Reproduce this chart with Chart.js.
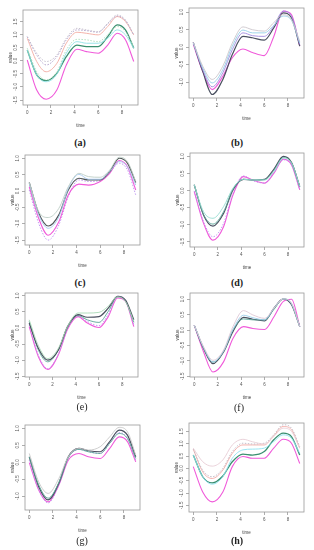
<!DOCTYPE html>
<html>
<head>
<meta charset="utf-8">
<script src="https://cdn.jsdelivr.net/npm/chart.js@4"></script>
<style>
  html, body { margin: 0; padding: 0; background: #fff; }
  body { position: relative; width: 314px; height: 550px; overflow: hidden; }
  canvas { position: absolute; }
  .cap { position: absolute; width: 40px; text-align: center; font-family: "Liberation Serif", serif; font-size: 10px; color: #222; }
</style>
</head>
<body>
<script>
// sample times shared by every curve
const times = [0, 0.8, 1.6, 2.5, 3.3, 4.2, 5.0, 6.0, 6.8, 7.6, 8.3, 9];
const xTickStep = 2;
const yTickStep = 0.5;

// (a)
const aGray      = [0.92, 0.29, -0.03, 0.22, 0.86, 1.24, 1.18, 1.11, 1.43, 1.75, 1.56, 0.99];
const aPurple    = [0.92, 0.22, -0.16, 0.16, 0.80, 1.18, 1.15, 1.09, 1.41, 1.71, 1.54, 0.99];
const aSalmon    = [0.86, -0.03, -0.42, -0.10, 0.67, 1.09, 1.05, 0.99, 1.31, 1.69, 1.50, 0.99];
const aLightGreen = [0.48, -0.42, -0.73, -0.42, 0.41, 0.82, 0.80, 0.73, 0.99, 1.31, 1.11, 0.54];
const aCyan      = [0.41, -0.54, -0.80, -0.51, 0.29, 0.73, 0.67, 0.67, 0.86, 1.18, 0.99, 0.48];
const aGreen     = [0.41, -0.54, -0.76, -0.48, 0.16, 0.60, 0.54, 0.54, 0.92, 1.37, 1.18, 0.48];
const aMagenta   = [0.03, -1.12, -1.47, -1.12, -0.16, 0.44, 0.35, 0.29, 0.60, 1.05, 0.80, -0.03];

// (b)
const bGray    = [0.14, -0.54, -0.92, -0.54, 0.12, 0.58, 0.50, 0.46, 0.70, 0.93, 0.79, 0.17];
const bBlue    = [0.12, -0.59, -1.02, -0.64, 0.03, 0.49, 0.41, 0.41, 0.62, 0.89, 0.77, 0.12];
const bViolet  = [0.14, -0.64, -1.13, -0.73, -0.07, 0.41, 0.33, 0.31, 0.60, 1.03, 0.89, 0.08];
const bDark    = [0.14, -0.69, -1.35, -0.92, -0.21, 0.31, 0.27, 0.20, 0.55, 0.98, 0.84, 0.03];
const bMagenta = [0.08, -0.69, -1.21, -0.83, -0.30, -0.05, -0.15, -0.24, 0.30, 1.03, 0.93, 0.03];

// (c)
const cGray    = [0.26, -0.63, -0.81, -0.53, 0.13, 0.54, 0.44, 0.42, 0.64, 1.03, 0.90, 0.29];
const cDark    = [0.26, -0.68, -1.07, -0.73, 0.03, 0.39, 0.34, 0.34, 0.59, 1.00, 0.85, 0.26];
const cBlue    = [0.23, -0.73, -1.14, -0.79, 0.08, 0.51, 0.36, 0.36, 0.59, 0.90, 0.74, 0.18];
const cMagenta = [0.13, -0.84, -1.35, -0.94, -0.12, 0.21, 0.18, 0.29, 0.54, 0.93, 0.74, 0.03];
const cViolet  = [0.03, -0.99, -1.50, -1.04, -0.17, 0.34, 0.29, 0.32, 0.56, 0.85, 0.64, -0.12];

// (d)
const dCyan    = [0.17, -0.62, -0.81, -0.47, 0.07, 0.33, 0.31, 0.31, 0.56, 0.95, 0.80, 0.12];
const dGreen   = [0.17, -0.70, -0.98, -0.62, 0.04, 0.33, 0.31, 0.32, 0.60, 0.97, 0.81, 0.12];
const dDark    = [0.17, -0.72, -1.04, -0.67, 0.02, 0.33, 0.31, 0.33, 0.63, 1.00, 0.82, 0.12];
const dViolet  = [-0.01, -0.91, -1.35, -0.96, -0.08, 0.43, 0.29, 0.22, 0.53, 0.90, 0.75, 0.02];
const dMagenta = [-0.03, -0.96, -1.45, -1.06, -0.13, 0.41, 0.31, 0.22, 0.51, 0.92, 0.75, 0.02];

// (e)
const eGreen   = [0.25, -0.56, -0.95, -0.64, 0.04, 0.46, 0.46, 0.48, 0.67, 0.96, 0.81, 0.20];
const eDark    = [0.15, -0.64, -1.00, -0.69, 0.04, 0.41, 0.33, 0.35, 0.61, 0.98, 0.85, 0.25];
const eTeal    = [0.20, -0.69, -1.05, -0.69, 0.02, 0.38, 0.25, 0.17, 0.51, 0.96, 0.82, 0.17];
const eViolet  = [0.10, -0.85, -1.26, -0.82, -0.02, 0.38, 0.20, 0.07, 0.42, 0.98, 0.85, 0.10];
const eMagenta = [0.04, -0.90, -1.29, -0.84, -0.04, 0.35, 0.15, 0.01, 0.35, 0.93, 0.82, 0.04];

// (f)
const fPink    = [0.16, -0.54, -0.98, -0.65, 0.11, 0.63, 0.49, 0.38, 0.71, 1.01, 0.87, 0.11];
const fBlue    = [0.16, -0.57, -1.03, -0.68, 0.02, 0.48, 0.40, 0.33, 0.71, 1.01, 0.85, 0.11];
const fTeal    = [0.16, -0.58, -1.04, -0.69, 0.00, 0.36, 0.33, 0.33, 0.67, 1.01, 0.84, 0.11];
const fDark    = [0.16, -0.60, -1.09, -0.71, -0.05, 0.41, 0.35, 0.30, 0.71, 1.01, 0.82, 0.11];
const fMagenta = [0.16, -0.71, -1.36, -1.03, -0.27, 0.11, 0.05, 0.02, 0.43, 0.93, 1.00, 0.11];

// (g)
const gGray    = [0.26, -0.58, -0.92, -0.48, 0.16, 0.41, 0.36, 0.46, 0.75, 1.03, 0.90, 0.21];
const gDark    = [0.16, -0.72, -1.11, -0.62, 0.16, 0.41, 0.34, 0.31, 0.61, 0.95, 0.80, 0.16];
const gTeal    = [0.16, -0.67, -1.06, -0.60, 0.14, 0.38, 0.31, 0.26, 0.56, 0.85, 0.70, 0.11];
const gViolet  = [0.06, -0.82, -1.20, -0.67, 0.12, 0.38, 0.31, 0.26, 0.56, 0.88, 0.70, 0.06];
const gMagenta = [-0.01, -0.82, -1.17, -0.67, 0.06, 0.26, 0.16, 0.11, 0.41, 0.75, 0.61, 0.01];

// (h)
const hPink    = [0.82, 0.27, 0.09, 0.34, 0.95, 1.18, 1.08, 0.99, 1.29, 1.63, 1.50, 0.82];
const hGray    = [0.78, -0.07, -0.34, 0.00, 0.68, 1.02, 0.99, 1.02, 1.36, 1.77, 1.63, 0.88];
const hSalmon  = [0.78, -0.14, -0.41, -0.07, 0.61, 0.95, 0.95, 0.95, 1.32, 1.70, 1.57, 0.82];
const hCyan    = [0.54, -0.34, -0.64, -0.34, 0.41, 0.75, 0.78, 0.82, 1.09, 1.36, 1.22, 0.61];
const hGreen   = [0.54, -0.34, -0.59, -0.31, 0.27, 0.58, 0.54, 0.68, 1.16, 1.43, 1.29, 0.54];
const hMagenta = [0.07, -0.96, -1.36, -0.96, 0.07, 0.48, 0.41, 0.41, 0.82, 1.18, 1.02, 0.20];

// y ranges of each panel
const yRangeA = [-1.69, 1.94];
const yRangeB = [-1.45, 1.12];
const yRangeC = [-1.65, 1.10];
const yRangeD = [-1.65, 1.10];
const yRangeE = [-1.52, 1.08];
const yRangeF = [-1.52, 1.20];
const yRangeG = [-1.41, 1.10];
const yRangeH = [-1.77, 1.84];

const captions = ['(a)', '(b)', '(c)', '(d)', '(e)', '(f)', '(g)', '(h)'];

const DOT = [1.5, 1.5];
const MAG = '#f05ada', VIO = '#bc92f0', DARK = '#4a5060', TEAL = '#5aa597';

const panels = [
  { col: 0, box: [23, 10, 138, 105], range: yRangeA, cap: [80, 143], bold: true, series: [
    [aGray, '#c2bbca', 0.9, DOT], [aPurple, '#ad9cc8', 0.9, DOT], [aSalmon, '#f3aaa2', 0.9],
    [aLightGreen, '#acdebb', 0.9, DOT], [aCyan, '#8ee2e7', 0.9], [aGreen, '#3a8f70', 1.3], [aMagenta, MAG, 1.1]] },
  { col: 157, box: [189, 8, 304, 98], range: yRangeB, cap: [237, 143], bold: true, series: [
    [bGray, '#cdc7cd', 0.9], [bBlue, '#95cfe8', 0.9], [bViolet, '#a08ae0', 0.9],
    [bDark, DARK, 1.2], [bMagenta, MAG, 1.1]] },
  { col: 0, box: [25, 155, 140, 245], range: yRangeC, cap: [80, 283], bold: true, series: [
    [cGray, '#bdcec6', 0.9], [cBlue, '#a6caf0', 0.9], [cDark, '#52585a', 1.2],
    [cMagenta, MAG, 1.1], [cViolet, VIO, 0.9, DOT]] },
  { col: 157, box: [190, 153, 304, 247], range: yRangeD, cap: [237, 283], bold: true, series: [
    [dCyan, '#97ded2', 0.9], [dGreen, TEAL, 0.9], [dDark, DARK, 1.2],
    [dViolet, VIO, 0.9, DOT], [dMagenta, MAG, 1.1]] },
  { col: 0, box: [25, 293, 138, 377], range: yRangeE, cap: [82, 407], bold: false, series: [
    [eGreen, '#a9d9b7', 0.9], [eDark, DARK, 1.2], [eTeal, TEAL, 0.9],
    [eViolet, VIO, 0.9, DOT], [eMagenta, MAG, 1.1]] },
  { col: 157, box: [190, 293, 304, 377], range: yRangeF, cap: [239, 408], bold: false, series: [
    [fPink, '#dfc8d6', 0.9], [fBlue, '#9bcbe9', 0.9], [fTeal, TEAL, 0.9],
    [fDark, DARK, 1.2], [fMagenta, MAG, 1.1]] },
  { col: 0, box: [25, 425, 140, 510], range: yRangeG, cap: [82, 541], bold: false, series: [
    [gGray, '#c8c8c8', 0.9], [gTeal, TEAL, 0.9], [gDark, DARK, 1.2],
    [gViolet, VIO, 0.9, DOT], [gMagenta, MAG, 1.1]] },
  { col: 157, box: [189, 423, 304, 512], range: yRangeH, cap: [237, 541], bold: true, series: [
    [hPink, '#e8ced6', 0.9], [hGray, '#bcb8c4', 0.9, DOT], [hSalmon, '#f2a9a6', 0.9],
    [hCyan, '#8ce1f0', 0.9], [hGreen, '#3a8f70', 1.3], [hMagenta, MAG, 1.1]] }
];

const boxPlugin = {
  id: 'rbox',
  beforeDatasetsDraw(chart) {
    const { ctx, chartArea: a } = chart;
    ctx.save();
    ctx.strokeStyle = '#999';
    ctx.lineWidth = 0.8;
    ctx.strokeRect(a.left, a.top, a.right - a.left, a.bottom - a.top);
    ctx.restore();
  }
};

const tickFont = { family: 'Liberation Sans', size: 4.5 };

panels.forEach((p, k) => {
  const [bl, bt, br, bb] = p.box;
  const cTop = bt - 10;
  const cw = 157, ch = bb + 28 - cTop;
  const canvas = document.createElement('canvas');
  canvas.width = cw; canvas.height = ch;
  canvas.style.left = p.col + 'px';
  canvas.style.top = cTop + 'px';
  document.body.appendChild(canvas);

  new Chart(canvas, {
    type: 'line',
    data: {
      datasets: p.series.map(([vals, color, w, dash]) => ({
        data: times.map((t, i) => ({ x: t, y: vals[i] })),
        borderColor: color,
        borderWidth: w,
        borderDash: dash || [],
        pointRadius: 0,
        fill: false,
        cubicInterpolationMode: 'monotone'
      }))
    },
    options: {
      responsive: false,
      animation: false,
      events: [],
      layout: { padding: { top: 10, right: p.col + cw - br, left: 0, bottom: 0 } },
      plugins: { legend: { display: false }, tooltip: { enabled: false } },
      scales: {
        x: {
          type: 'linear', min: -0.36, max: 9.36,
          afterFit: s => { s.height = 28; },
          ticks: { stepSize: xTickStep, includeBounds: false, maxRotation: 0, font: tickFont, color: '#555', padding: 2 },
          grid: { drawOnChartArea: false, tickLength: 3, color: '#777', lineWidth: 0.6 },
          border: { display: false },
          title: { display: true, text: 'time', font: tickFont, color: '#444', padding: { top: 0, bottom: 5 } }
        },
        y: {
          min: p.range[0], max: p.range[1],
          afterFit: s => { s.width = bl - p.col; },
          ticks: { stepSize: yTickStep, includeBounds: false, minRotation: 90, maxRotation: 90, crossAlign: 'center',
                   font: tickFont, color: '#555', padding: 0, callback: v => v.toFixed(1) },
          grid: { drawOnChartArea: false, tickLength: 3, color: '#777', lineWidth: 0.6 },
          border: { display: false },
          title: { display: true, text: 'value', font: tickFont, color: '#444', padding: { top: bl - p.col - 15, bottom: 0 } }
        }
      }
    },
    plugins: [boxPlugin]
  });

  const cap = document.createElement('div');
  cap.className = 'cap';
  cap.textContent = captions[k];
  cap.style.left = (p.cap[0] - 20) + 'px';
  cap.style.top = (p.cap[1] - 6) + 'px';
  cap.style.fontWeight = p.bold ? 'bold' : 'normal';
  document.body.appendChild(cap);
});
</script>
</body>
</html>
